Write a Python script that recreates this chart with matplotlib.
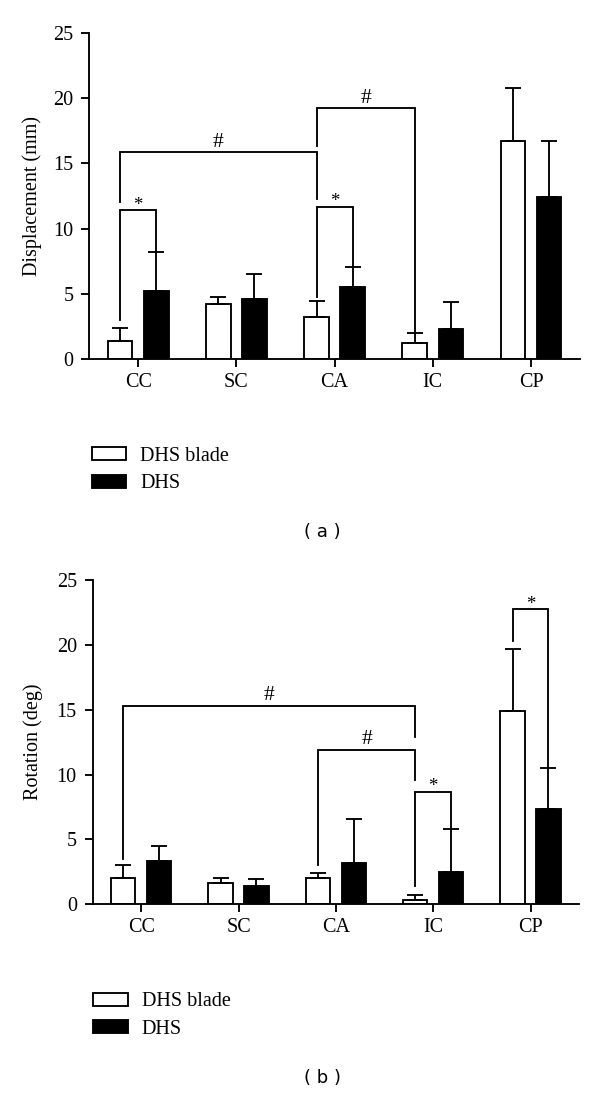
import numpy as np
import matplotlib
matplotlib.use("Agg")
import matplotlib.pyplot as plt
from matplotlib.patches import Patch

plt.rcParams['font.family'] = ['Liberation Serif', 'DejaVu Serif']

sites = ['CC', 'SC', 'CA', 'IC', 'CP']
groups = ['DHS blade', 'DHS']

# (a) displacement, mm
disp_blade = [1.35, 4.2, 3.25, 1.2, 16.7]
disp_blade_sd = [1.0, 0.58, 1.2, 0.77, 4.1]
disp_dhs = [5.2, 4.62, 5.55, 2.28, 12.45]
disp_dhs_sd = [3.03, 1.9, 1.5, 2.07, 4.25]

# (b) rotation, deg
rot_blade = [2.03, 1.64, 2.05, 0.36, 14.92]
rot_blade_sd = [1.0, 0.39, 0.36, 0.36, 4.75]
rot_dhs = [3.33, 1.41, 3.2, 2.51, 7.31]
rot_dhs_sd = [1.15, 0.57, 3.39, 3.28, 3.21]

# significance brackets: (site1, group1, site2, group2, height, left end, right end, mark)
disp_sig = [
    (0, 0, 0, 1, 11.43, 3.0, 8.23, '*'),
    (0, 0, 2, 0, 15.87, 12.06, 12.3, '#'),
    (2, 0, 2, 1, 11.68, 4.78, 7.05, '*'),
    (2, 0, 3, 0, 19.27, 16.36, 1.97, '#'),
]
rot_sig = [
    (0, 0, 3, 0, 15.31, 3.46, 12.87, '#'),
    (2, 0, 3, 0, 11.92, 3.0, 9.55, '#'),
    (3, 0, 3, 1, 8.69, 1.38, 5.79, '*'),
    (4, 0, 4, 1, 22.77, 20.33, 10.52, '*'),
]

W = 0.25
OFF = 0.184
LW = 1.35
FS = 14.5


def panel(ax, blade, blade_sd, dhs, dhs_sd, ylabel, sig):
    x = np.arange(len(sites))
    ax.bar(x - OFF, blade, width=W, color='white', edgecolor='black', linewidth=LW)
    ax.bar(x + OFF, dhs, width=W, color='black', edgecolor='black', linewidth=LW)
    zeros = np.zeros(len(sites))
    ax.errorbar(x - OFF, blade, yerr=[zeros, blade_sd], fmt='none', ecolor='black',
                elinewidth=LW, capsize=5.5, capthick=LW)
    ax.errorbar(x + OFF, dhs, yerr=[zeros, dhs_sd], fmt='none', ecolor='black',
                elinewidth=LW, capsize=5.5, capthick=LW)

    for s1, g1, s2, g2, h, y1, y2, mark in sig:
        x1 = s1 + (OFF if g1 else -OFF)
        x2 = s2 + (OFF if g2 else -OFF)
        ax.plot([x1, x1, x2, x2], [y1, h, h, y2], color='black', lw=LW,
                solid_joinstyle='miter')
        if mark == '#':
            ax.text((x1 + x2) / 2, h + 0.4, mark, ha='center', va='baseline', fontsize=15.5)
        else:
            ax.text((x1 + x2) / 2, h + 0.02, mark, ha='center', va='baseline', fontsize=13.5)

    ax.set_xlim(-0.5, 4.5)
    ax.set_ylim(0, 25)
    ax.set_yticks(range(0, 26, 5))
    ax.set_xticks(x)
    ax.set_xticklabels(sites)
    ax.set_ylabel(ylabel, fontsize=FS)
    for s in ['top', 'right']:
        ax.spines[s].set_visible(False)
    for s in ['left', 'bottom']:
        ax.spines[s].set_linewidth(LW)
    ax.tick_params(axis='both', direction='out', length=5.8, width=LW, labelsize=FS)
    ax.tick_params(axis='y', pad=5.5)
    ax.tick_params(axis='x', pad=4)


fig = plt.figure(figsize=(6, 10.93), dpi=100)

ax1 = fig.add_axes([0.1485, 0.6715, 0.8183, 0.2983])
panel(ax1, disp_blade, disp_blade_sd, disp_dhs, disp_dhs_sd, 'Displacement (mm)', disp_sig)
ax1.yaxis.set_label_coords(-0.096, 0.5)

ax2 = fig.add_axes([0.1542, 0.1726, 0.8112, 0.2968])
panel(ax2, rot_blade, rot_blade_sd, rot_dhs, rot_dhs_sd, 'Rotation (deg)', rot_sig)
ax2.yaxis.set_label_coords(-0.102, 0.5)

handles = [Patch(facecolor='white', edgecolor='black', linewidth=LW, label=groups[0]),
           Patch(facecolor='black', edgecolor='black', linewidth=LW, label=groups[1])]
leg_kw = dict(loc='center left', frameon=False, handlelength=1.7, handleheight=0.6,
              handletextpad=0.7, labelspacing=0.42, borderpad=0, borderaxespad=0,
              fontsize=FS)
fig.legend(handles=handles, bbox_to_anchor=(0.1533, 0.570), **leg_kw)
fig.legend(handles=handles, bbox_to_anchor=(0.1555, 0.0709), **leg_kw)

fig.text(0.5375, 0.5135, '( a )', family='DejaVu Sans', fontsize=13, ha='center', va='center')
fig.text(0.5375, 0.0137, '( b )', family='DejaVu Sans', fontsize=13, ha='center', va='center')

fig.savefig('out.png', dpi=100)
